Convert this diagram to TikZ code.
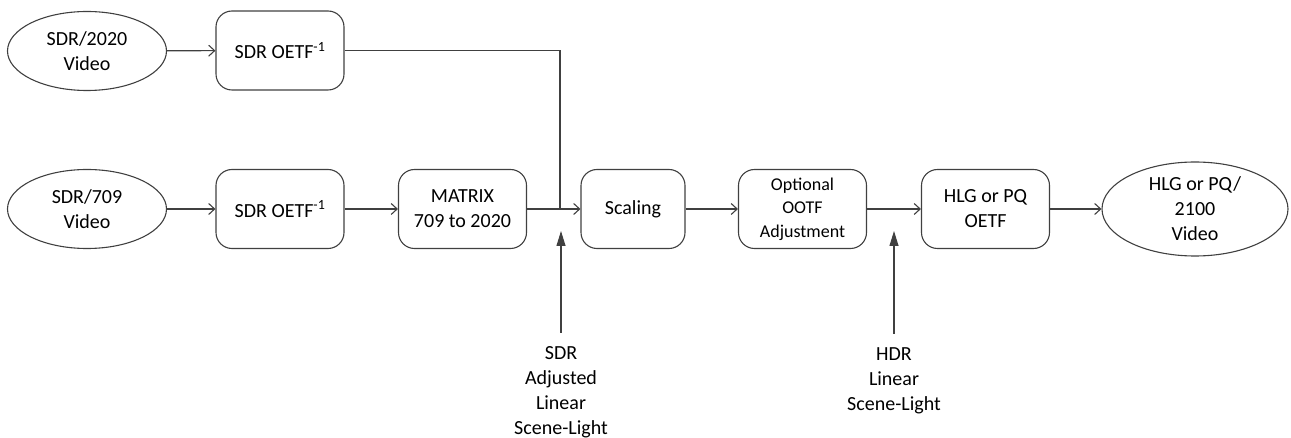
\documentclass[tikz,border=0pt]{standalone}
\usepackage{fontspec}
\setmainfont{Carlito}
\usetikzlibrary{shapes.geometric,arrows.meta}
\begin{document}
\begin{tikzpicture}[x=1pt,y=-1pt,
  line/.style={draw=black!75, line width=1.1pt},
  box/.style={rectangle, rounded corners=16pt, draw=black!75, line width=1.1pt,
    minimum width=128pt, minimum height=79pt, align=center, inner sep=0pt,
    font=\fontsize{20}{25}\selectfont},
  oval/.style={ellipse, draw=black!75, line width=1.1pt, minimum width=159pt,
    minimum height=79pt, align=center, inner sep=0pt,
    font=\fontsize{20}{25}\selectfont},
  arr/.style={line, -{Straight Barb[length=6pt,width=11pt]}},
  uparr/.style={line, -{Triangle[length=15pt,width=9pt]}},
  lbl/.style={align=center, inner sep=0pt, anchor=north,
    font=\fontsize{20}{25}\selectfont}]
\useasboundingbox (0,0) rectangle (1291,438);

\node[oval] (v2020) at (87,51) {SDR/2020\\Video};
\node[box] (o1) at (280,50.5) {SDR OETF\textsuperscript{-1}};
\node[oval] (v709) at (87,209) {SDR/709\\Video};
\node[box] (o2) at (280,209) {SDR OETF\textsuperscript{-1}};
\node[box] (mx) at (462.5,209) {MATRIX\\709 to 2020};
\node[box, minimum width=104pt] (sc) at (633,209) {Scaling};
\node[box, font=\fontsize{18}{23.5}\selectfont] (oo) at (802.5,209) {Optional\\OOTF\\Adjustment};
\node[box] (hl) at (985.5,209) {HLG or PQ\\OETF};
\node[oval, minimum width=186pt, minimum height=94pt] (out) at (1195,209) {HLG or PQ/\\2100\\Video};

\coordinate (j1) at (560,209);
\coordinate (j2) at (894,209);
\coordinate (t1) at (561,231);
\coordinate (t2) at (894,231);

\node[lbl] (l1) at (561,346) {SDR\\Adjusted\\Linear\\Scene-Light};
\node[lbl] (l2) at (894,347) {HDR\\Linear\\Scene-Light};

\draw[arr] (v2020) -- (o1);
\draw[line] (o1.east) -| (j1);
\draw[arr] (v709) -- (o2);
\draw[arr] (o2) -- (mx);
\draw[arr] (mx) -- (sc);
\draw[arr] (sc) -- (oo);
\draw[arr] (oo) -- (hl);
\draw[arr] (hl) -- (out);
\draw[uparr] ([yshift=13pt]l1.north) -- (t1);
\draw[uparr] ([yshift=13pt]l2.north) -- (t2);
\end{tikzpicture}
\end{document}
